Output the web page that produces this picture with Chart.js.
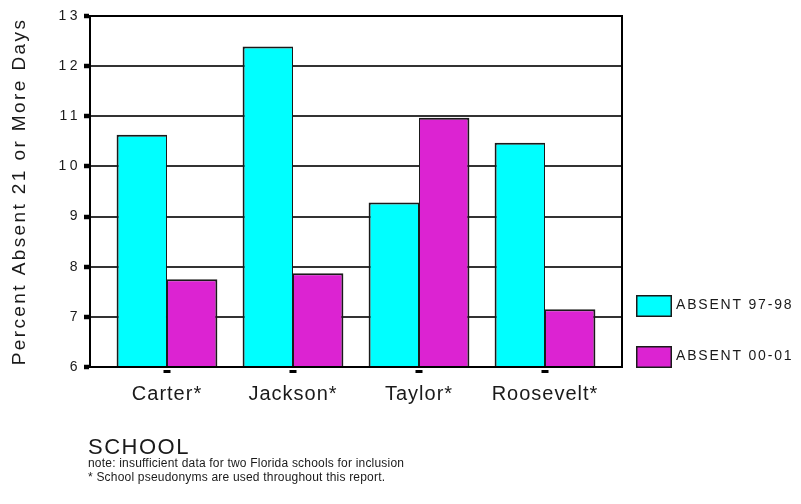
<!DOCTYPE html>
<html>
<head>
<meta charset="utf-8">
<script src="https://cdn.jsdelivr.net/npm/chart.js@4/dist/chart.umd.min.js"></script>
<style>
  html, body { margin: 0; padding: 0; background: #ffffff; }
  canvas { display: block; }
</style>
</head>
<body>
<canvas id="chart" width="801" height="504"></canvas>
<script>
// ---- data ----
const schools = ['Carter*', 'Jackson*', 'Taylor*', 'Roosevelt*'];
const absent9798 = [10.63, 12.39, 9.28, 10.47];
const absent0001 = [7.75, 7.87, 10.97, 7.15];
const seriesNames = ['ABSENT 97-98', 'ABSENT 00-01'];
const yTickValues = [6, 7, 8, 9, 10, 11, 12, 13];
const yTitle = 'Percent Absent 21 or More Days';
const xTitle = 'SCHOOL';
const notes = [
  'note: insufficient data for two Florida schools for inclusion',
  '* School pseudonyms are used throughout this report.'
];

const yMin = yTickValues[0];
const yMax = yTickValues[yTickValues.length - 1];
const FONT = '"Liberation Sans", Arial, Helvetica, sans-serif';
const INK = '#1a1a1a';

// letter spacing for the text each scale draws
const scaleSpacing = { x: { ticks: '1px' }, y: { ticks: '3.5px', title: '2.4px' } };
const spacedScales = new WeakSet();
const spacedText = {
  id: 'spacedText',
  beforeDraw(chart) {
    Object.keys(scaleSpacing).forEach(id => {
      const scale = chart.scales[id];
      if (!scale || spacedScales.has(scale)) return;
      spacedScales.add(scale);
      const wrap = (method, value) => {
        const original = scale[method];
        scale[method] = function (...args) {
          const ctx = this.ctx;
          const prev = ctx.letterSpacing;
          ctx.letterSpacing = value;
          original.apply(this, args);
          ctx.letterSpacing = prev === undefined ? '0px' : prev;
        };
      };
      if (scaleSpacing[id].ticks) wrap('drawLabels', scaleSpacing[id].ticks);
      if (scaleSpacing[id].title) wrap('drawTitle', scaleSpacing[id].title);
    });
  }
};

// top and right edges of the plot frame
const plotFrame = {
  id: 'plotFrame',
  beforeDatasetsDraw(chart) {
    const { ctx, chartArea: a } = chart;
    ctx.save();
    ctx.strokeStyle = '#000';
    ctx.lineWidth = 2;
    ctx.beginPath();
    ctx.moveTo(a.left, a.top);
    ctx.lineTo(a.right, a.top);
    ctx.lineTo(a.right, a.bottom);
    ctx.stroke();
    ctx.restore();
  }
};

// small category markers under the x axis, legend and footnotes
const decorations = {
  id: 'decorations',
  afterDraw(chart) {
    const { ctx, chartArea: a } = chart;
    const xs = chart.scales.x;
    ctx.save();
    ctx.fillStyle = '#000';
    schools.forEach((_, i) => {
      const px = xs.getPixelForValue(i);
      ctx.fillRect(Math.round(px) - 3.5, a.bottom + 3, 7, 3);
    });

    // legend
    chart.data.datasets.forEach((ds, i) => {
      const bx = 636, by = 295 + i * 51, bw = 36, bh = 22;
      ctx.fillStyle = ds.backgroundColor;
      ctx.fillRect(bx, by, bw, bh);
      ctx.lineWidth = 1.5;
      ctx.strokeStyle = INK;
      ctx.strokeRect(bx + 0.75, by + 0.75, bw - 1.5, bh - 1.5);
      ctx.letterSpacing = '1.8px';
      ctx.font = '14px ' + FONT;
      ctx.fillStyle = INK;
      ctx.textAlign = 'left';
      ctx.textBaseline = 'middle';
      ctx.fillText(ds.label, bx + bw + 4, by + bh / 2 - 1);
    });

    // axis caption and notes
    ctx.textAlign = 'left';
    ctx.textBaseline = 'alphabetic';
    ctx.fillStyle = INK;
    ctx.letterSpacing = '1.5px';
    ctx.font = '22px ' + FONT;
    ctx.fillText(xTitle, 88, 454);
    ctx.letterSpacing = '0.2px';
    ctx.font = '12px ' + FONT;
    notes.forEach((line, i) => ctx.fillText(line, 88, 467 + i * 13.5));
    ctx.restore();
  }
};

new Chart(document.getElementById('chart'), {
  type: 'bar',
  data: {
    datasets: [
      {
        label: seriesNames[0],
        data: schools.map((_, i) => ({ x: i, y: absent9798[i] })),
        backgroundColor: '#00ffff',
        borderColor: INK,
        borderWidth: { top: 2, left: 2, right: 1, bottom: 0 },
        base: yMin
      },
      {
        label: seriesNames[1],
        data: schools.map((_, i) => ({ x: i, y: absent0001[i] })),
        backgroundColor: '#dc23d2',
        borderColor: INK,
        borderWidth: { top: 2, left: 1, right: 2, bottom: 0 },
        base: yMin
      }
    ]
  },
  options: {
    responsive: false,
    animation: false,
    devicePixelRatio: 1,
    categoryPercentage: 0.8,
    barPercentage: 1.0,
    layout: { padding: { top: 16, right: 179, bottom: 0, left: 0 } },
    plugins: {
      legend: { display: false },
      tooltip: { enabled: false }
    },
    scales: {
      x: {
        type: 'linear',
        offset: false,
        bounds: 'data',
        min: -0.611,
        max: 3.611,
        afterBuildTicks: s => { s.ticks = schools.map((_, i) => ({ value: i })); },
        afterFit: s => { s.height = 137; },
        grid: { display: false, drawTicks: false },
        border: { display: true, color: '#000', width: 2 },
        ticks: {
          padding: 15,
          color: INK,
          font: { family: FONT, size: 20 },
          maxRotation: 0,
          autoSkip: false,
          callback: v => schools[v]
        }
      },
      y: {
        min: yMin,
        max: yMax,
        afterBuildTicks: s => { s.ticks = yTickValues.map(v => ({ value: v })); },
        afterFit: s => { s.width = 90; },
        grid: { color: '#333', lineWidth: 2, tickLength: 6, tickWidth: 4.5, tickColor: '#000' },
        border: { color: '#000', width: 2 },
        ticks: { padding: 3, color: INK, font: { family: FONT, size: 14 } },
        title: {
          display: true,
          text: yTitle,
          color: INK,
          font: { family: FONT, size: 19 },
          padding: { top: 8, bottom: 0 }
        }
      }
    }
  },
  plugins: [spacedText, plotFrame, decorations]
});
</script>
</body>
</html>
